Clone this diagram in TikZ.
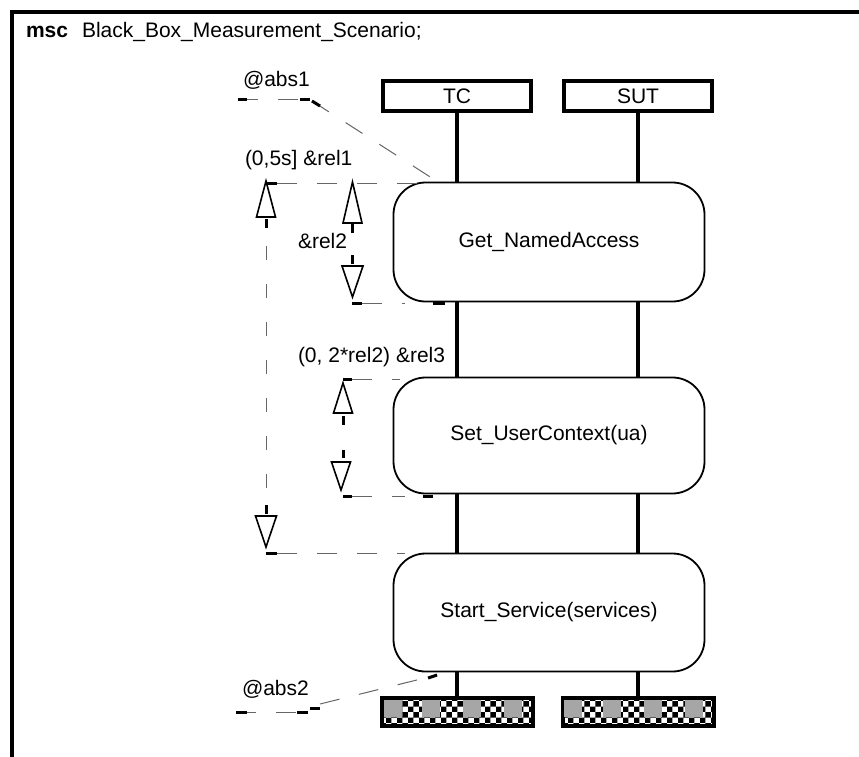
\documentclass[tikz,border=0pt]{standalone}
\usepackage{fontspec}
\setmainfont{Liberation Sans}
\usetikzlibrary{patterns}
\begin{document}
\begin{tikzpicture}[x=1pt,y=-1pt,
  every node/.style={inner sep=0pt, outer sep=0pt},
  txt/.style={font=\fontsize{21}{25}\selectfont},
  inst/.style={txt, draw, line width=4pt, minimum width=148pt, minimum height=30pt},
  refbox/.style={txt, draw, line width=1.8pt, rounded corners=32pt, minimum width=311pt},
  endbar/.style={draw, line width=4pt, minimum width=151pt, minimum height=28pt, pattern=checkerboard, pattern color=black},
  life/.style={line width=4pt},
  dsh/.style={draw=black!60, line width=1pt, dash pattern=on 20pt off 20pt},
  vdsh/.style={draw=black!60, line width=1pt, dash pattern=on 14pt off 24pt},
  tick/.style={line width=3pt},
  tri/.style={draw, line width=1.6pt, fill=white, line join=miter},
  graybl/.style={fill=gray!70},
]
\useasboundingbox (0,0) rectangle (859,756);
% frame
\draw[line width=4pt] (12,770) -- (12,12) -- (870,12);
\node[anchor=base west, font=\bfseries\fontsize{21}{25}\selectfont] (msc) at (26,37) {msc};
\node[txt, anchor=base west] (title) at (82,37) {Black\_Box\_Measurement\_Scenario;};

% instances
\node[inst] (TC) at (457,96) {TC};
\node[inst] (SUT) at (638,96) {SUT};

% references
\node[refbox, minimum height=119pt] (r1) at (549,242) {Get\_NamedAccess};
\node[refbox, minimum height=116pt] (r2) at (549,435.5) {Set\_UserContext(ua)};
\node[refbox, minimum height=118pt] (r3) at (549,612.5) {Start\_Service(services)};

% end bars
\node[endbar] (eTC) at (457.5,712) {};
\node[endbar] (eSUT) at (638.5,712) {};
\foreach \x in {392.5,431,472,513}{\fill[graybl] (\x-9,700) rectangle (\x+9,717);}
\foreach \x in {572.5,612,653,694}{\fill[graybl] (\x-9,700) rectangle (\x+9,717);}

% lifelines
\foreach \i in {TC,SUT}{
  \draw[life] (\i.south) -- (\i.south |- r1.north);
  \draw[life] (\i.south |- r1.south) -- (\i.south |- r2.north);
  \draw[life] (\i.south |- r2.south) -- (\i.south |- r3.north);
  \draw[life] (\i.south |- r3.south) -- (\i.south |- e\i.north);
}

% labels
\node[txt, anchor=base west] (labs1) at (243,86) {@abs1};
\node[txt, anchor=base west] (lrel1) at (245,165) {(0,5s] \&rel1};
\node[txt, anchor=base west] (lrel2) at (298,248) {\&rel2};
\node[txt, anchor=base west] (lrel3) at (298,362) {(0, 2*rel2) \&rel3};
\node[txt, anchor=base west] (labs2) at (242,695) {@abs2};

% abs1
\draw[dsh] (238,99) -- (310,99);
\draw[tick] (238,99) -- (247,99);
\draw[tick] (300,99) -- (310,99);
\draw[dsh] (312,101) -- (438,182);
\draw[tick] (312,101) -- (320,106);

% rel1
\draw[dsh] (277,183) -- (430,183);
\draw[tick] (266,183) -- (277,183);
\draw[tri] (266,181) -- (256.5,217) -- (275.5,217) -- cycle;
\draw[tick] (266,219) -- (266,228);
\draw[vdsh] (266,246) -- (266,505);
\draw[tick] (266,505) -- (266,514);
\draw[tri] (255.5,516) -- (276.5,516) -- (266,547) -- cycle;
\draw[tick] (266,553) -- (277,553);
\draw[dsh] (277,553) -- (405,553);

% rel2
\draw[tri] (352.5,182) -- (343,223) -- (362,223) -- cycle;
\draw[tick] (352.5,224) -- (352.5,233);
\draw[tick] (352.5,255) -- (352.5,264);
\draw[tri] (342,266) -- (363,266) -- (352.5,297) -- cycle;
\draw[tick] (352,303) -- (362,303);
\draw[dsh] (362,303) -- (405,303);
\draw[tick] (433,303) -- (445,303);

% rel3
\draw[tick] (343,379) -- (352,379);
\draw[dsh] (352,379) -- (400,379);
\draw[tri] (343,383) -- (333.5,413) -- (352.5,413) -- cycle;
\draw[tick] (343,416) -- (343,425);
\draw[tick] (343,450) -- (343,458);
\draw[tri] (331.5,462) -- (350.5,462) -- (341,490) -- cycle;
\draw[tick] (343,496) -- (352,496);
\draw[dsh] (352,496) -- (405,496);
\draw[tick] (423,496) -- (433,496);

% abs2
\draw[dsh] (236,712) -- (308,712);
\draw[tick] (236,712) -- (247,712);
\draw[tick] (297,712) -- (308,712);
\draw[tick] (310,708) -- (320,708);
\draw[dsh] (320,704) -- (437,675);
\draw[tick] (428,678) -- (437,675);
\end{tikzpicture}
\end{document}
